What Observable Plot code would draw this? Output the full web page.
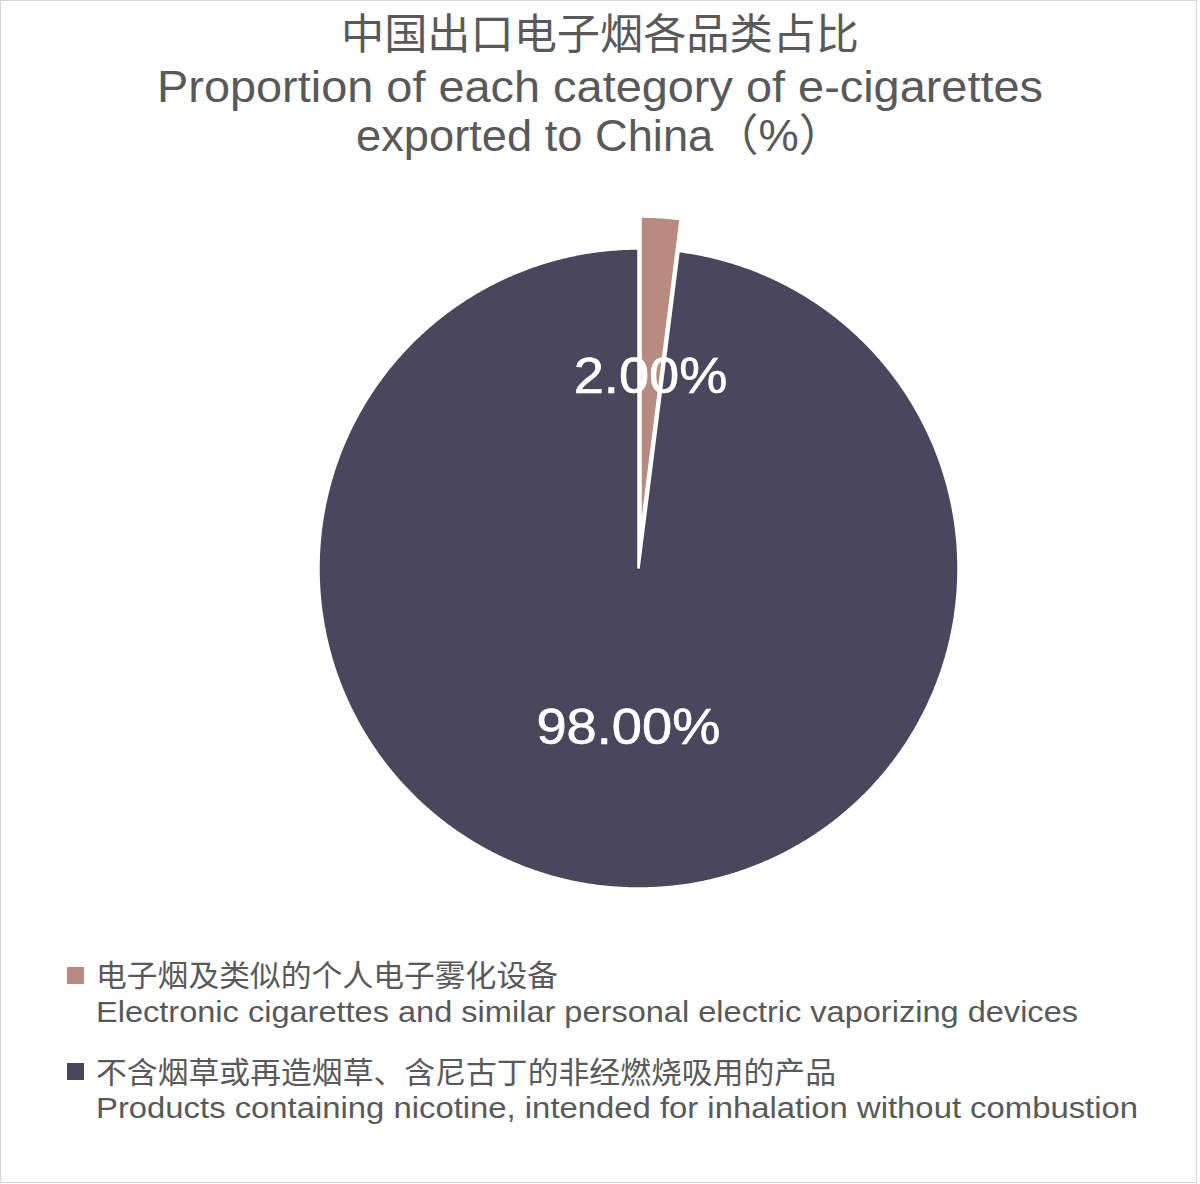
<!DOCTYPE html>
<html>
<head>
<meta charset="utf-8">
<script src="https://cdn.jsdelivr.net/npm/d3@7"></script>
<script src="https://cdn.jsdelivr.net/npm/@observablehq/plot@0.6"></script>
<style>
  html, body { margin: 0; padding: 0; background: #fff; }
  #page { position: relative; width: 1200px; height: 1184px; overflow: hidden; }
  #frame { position: absolute; left: 0; top: 0; width: 1197px; height: 1183px; box-sizing: border-box; border: 1.5px solid #d6d6d6; }
  .line { position: absolute; white-space: nowrap; color: #595959; line-height: 1; }
  .zh { font-family: "Noto Sans CJK SC", sans-serif; }
  .en { font-family: "Liberation Sans", Arial, "Noto Sans CJK SC", sans-serif; }
  .line .t { display: inline-block; transform-origin: 0 50%; }
  .line .b { display: inline-block; width: 0; height: 0; vertical-align: baseline; }
  #chart { position: absolute; left: 0; top: 180px; }
  .sw { position: absolute; width: 17px; height: 17px; }
</style>
</head>
<body>
<div id="page">
  <div id="frame"></div>
  <div id="chart"></div>
</div>
<script>
// ---- data ----
const titleZh = "中国出口电子烟各品类占比";
const titleEn1 = "Proportion of each category of e-cigarettes";
const titleEn2 = "exported to China（%）";
const categories = ["电子烟及类似的个人电子雾化设备", "不含烟草或再造烟草、含尼古丁的非经燃烧吸用的产品"];
const categoriesEn = ["Electronic cigarettes and similar personal electric vaporizing devices", "Products containing nicotine, intended for inhalation without combustion"];
const values = [2.00, 98.00];
const valueLabels = ["2.00%", "98.00%"];
const colors = ["#B98A80", "#4A465B"];
const explode = [0.1, 0]; // offset as fraction of radius

// ---- geometry (unit radius, clockwise from 12 o'clock) ----
const total = d3.sum(values);
const slices = [];
let acc = 0;
values.forEach((v, i) => {
  const a0 = acc / total * 2 * Math.PI;
  acc += v;
  const a1 = acc / total * 2 * Math.PI;
  const mid = (a0 + a1) / 2;
  const ox = explode[i] * Math.sin(mid), oy = explode[i] * Math.cos(mid);
  slices.push({i, a0, a1, mid, ox, oy});
});
const pts = [];
for (const s of slices) {
  const cat = categories[s.i];
  pts.push({category: cat, x: s.ox, y: s.oy});
  const n = Math.max(2, Math.ceil((s.a1 - s.a0) / (Math.PI / 720)));
  for (let k = 0; k <= n; k++) {
    const a = s.a0 + (s.a1 - s.a0) * k / n;
    pts.push({category: cat, x: s.ox + Math.sin(a), y: s.oy + Math.cos(a)});
  }
}
const labels = slices.map(s => ({
  label: valueLabels[s.i],
  x: s.ox + 0.5 * Math.sin(s.mid),
  y: s.oy + 0.5 * Math.cos(s.mid)
}));

// ---- chart ----
const R = 320, cx = 638, cy = 568, top0 = 180, H = 740;
const plot = Plot.plot({
  width: 1200, height: H, margin: 0,
  style: {background: "transparent", overflow: "visible"},
  x: {domain: [-cx / R, (1200 - cx) / R], axis: null},
  y: {domain: [-(top0 + H - cy) / R, (cy - top0) / R], axis: null},
  color: {domain: categories, range: colors},
  marks: [
    Plot.line(pts, {x: "x", y: "y", z: "category", fill: "category", stroke: "white", strokeWidth: 2.5, curve: "linear-closed", strokeLinejoin: "miter"}),
    Plot.text(labels, {x: "x", y: "y", text: "label", fill: "white", fontSize: 50, fontFamily: "Liberation Sans, Arial, sans-serif", className: "vlabel"})
  ]
});
document.getElementById("chart").appendChild(plot);
// widen value labels slightly
plot.querySelectorAll(".vlabel text").forEach(t => {
  const w = t.getComputedTextLength();
  t.setAttribute("textLength", (w * 1.085).toFixed(1));
  t.setAttribute("lengthAdjust", "spacingAndGlyphs");
  t.setAttribute("stroke", "white");
  t.setAttribute("stroke-width", "0.6");
});

// ---- text lines (title + legend) ----
const page = document.getElementById("page");
function addLine(text, {x, baseline, size, fit, align = "left", cls}) {
  const d = document.createElement("div");
  d.className = "line " + cls;
  d.style.fontSize = size + "px";
  d.style.left = "0px"; d.style.top = "0px";
  const t = document.createElement("span"); t.className = "t"; t.textContent = text;
  const b = document.createElement("span"); b.className = "b";
  d.appendChild(t); d.appendChild(b);
  page.appendChild(d);
  const w = t.getBoundingClientRect().width;
  const sx = fit ? fit / w : 1;
  t.style.transform = `scaleX(${sx})`;
  const baseOff = b.getBoundingClientRect().top - d.getBoundingClientRect().top;
  d.style.top = (baseline - baseOff) + "px";
  const left = align === "center" ? x - w * sx / 2 : x;
  d.style.left = left + "px";
  return sx;
}
addLine(titleZh, {x: 600, baseline: 49, size: 42, fit: 518, align: "center", cls: "zh"});
addLine(titleEn1, {x: 600, baseline: 102, size: 44, fit: 886, align: "center", cls: "en"});
addLine(titleEn2, {x: 600, baseline: 151, size: 44, fit: 488, align: "center", cls: "en"});

const legendY = [975, 1071.5];
categories.forEach((c, i) => {
  const sw = document.createElement("div");
  sw.className = "sw";
  sw.style.left = "67px"; sw.style.top = (legendY[i] - 8.5) + "px";
  sw.style.background = colors[i];
  page.appendChild(sw);
  addLine(c, {x: 96, baseline: legendY[i] + 11, size: 30, fit: i === 0 ? 462 : 740, cls: "zh"});
  addLine(categoriesEn[i], {x: 96, baseline: legendY[i] + 46.5, size: 29, fit: i === 0 ? 982 : 1042, cls: "en"});
});
</script>
</body>
</html>
